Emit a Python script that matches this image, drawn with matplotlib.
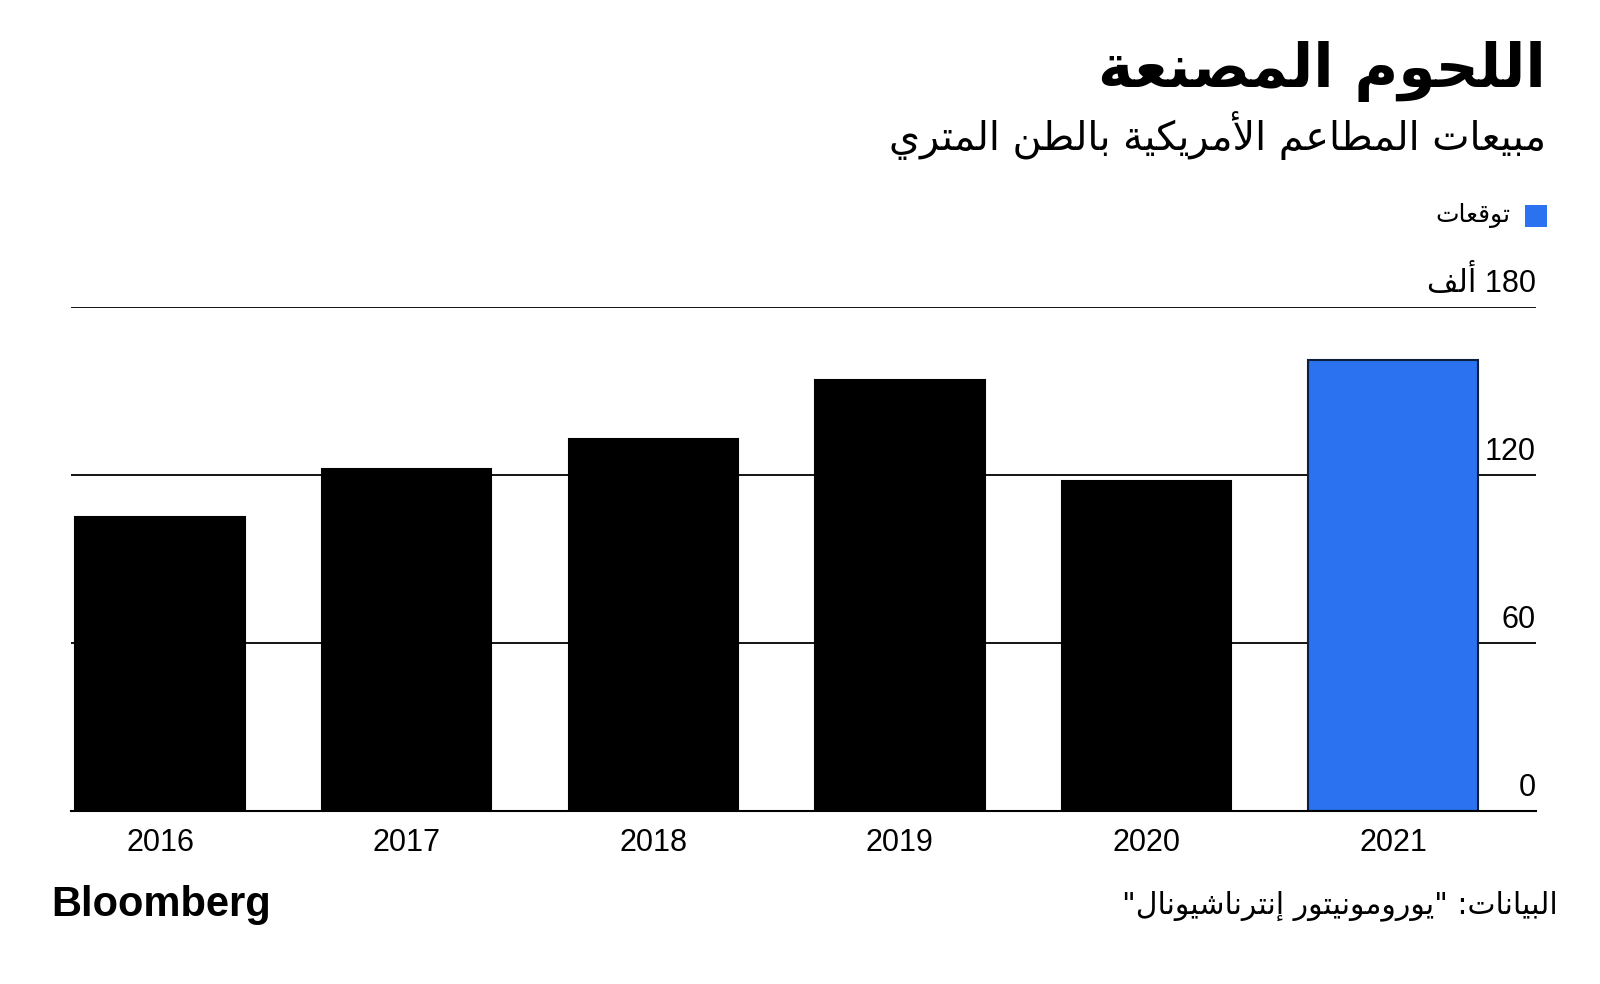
import re
import matplotlib
matplotlib.use("Agg")
import matplotlib.pyplot as plt
from matplotlib.patches import Rectangle
from matplotlib.transforms import blended_transform_factory, offset_copy

# ---------------- data ----------------
years = ["2016", "2017", "2018", "2019", "2020", "2021"]
sales = [105, 122, 133, 154, 118, 161]          # thousand metric tons
is_forecast = [False, False, False, False, False, True]
yticks = [0, 60, 120, 180]
ytick_labels = ["0", "60", "120", "180 ألف"]

title = "اللحوم المصنعة"
subtitle = "مبيعات المطاعم الأمريكية بالطن المتري"
legend_label = "توقعات"
source = 'البيانات: "يورومونيتور إنترناشيونال"'

# ---------------- minimal Arabic shaping ----------------
DUAL = {0x0626: 0xFE89, 0x0628: 0xFE8F, 0x062A: 0xFE95, 0x062B: 0xFE99, 0x062C: 0xFE9D,
        0x062D: 0xFEA1, 0x062E: 0xFEA5, 0x0633: 0xFEB1, 0x0634: 0xFEB5, 0x0635: 0xFEB9,
        0x0636: 0xFEBD, 0x0637: 0xFEC1, 0x0638: 0xFEC5, 0x0639: 0xFEC9, 0x063A: 0xFECD,
        0x0641: 0xFED1, 0x0642: 0xFED5, 0x0643: 0xFED9, 0x0644: 0xFEDD, 0x0645: 0xFEE1,
        0x0646: 0xFEE5, 0x0647: 0xFEE9, 0x064A: 0xFEF1}
RIGHT = {0x0622: 0xFE81, 0x0623: 0xFE83, 0x0624: 0xFE85, 0x0625: 0xFE87, 0x0627: 0xFE8D,
         0x0629: 0xFE93, 0x062F: 0xFEA9, 0x0630: 0xFEAB, 0x0631: 0xFEAD, 0x0632: 0xFEAF,
         0x0648: 0xFEED, 0x0649: 0xFEEF}
LAMALEF = {"\u0622": (0xFEF5, 0xFEF6), "\u0623": (0xFEF7, 0xFEF8),
           "\u0625": (0xFEF9, 0xFEFA), "\u0627": (0xFEFB, 0xFEFC)}


def _jtype(tok):
    c = tok[0]
    if c == "LA":
        return "R"
    o = ord(c)
    if o in DUAL:
        return "D"
    if o in RIGHT:
        return "R"
    if o == 0x0621:
        return "U"
    return None


def shape(s):
    toks = []
    i = 0
    while i < len(s):
        c = s[i]
        if c == "\u0644" and i + 1 < len(s) and s[i + 1] in LAMALEF:
            toks.append(("LA", s[i + 1]))
            i += 2
        else:
            toks.append((c, None))
            i += 1
    res = []
    for k, tok in enumerate(toks):
        t = _jtype(tok)
        prev = _jtype(toks[k - 1]) if k > 0 else None
        nxt = _jtype(toks[k + 1]) if k + 1 < len(toks) else None
        lp = t in ("D", "R") and prev == "D"
        ln = t == "D" and nxt in ("D", "R")
        if tok[0] == "LA":
            iso, fin = LAMALEF[tok[1]]
            res.append(chr(fin if lp else iso))
        elif t == "D":
            idx = 3 if (lp and ln) else 1 if lp else 2 if ln else 0
            res.append(chr(DUAL[ord(tok[0])] + idx))
        elif t == "R":
            res.append(chr(RIGHT[ord(tok[0])] + (1 if lp else 0)))
        elif t == "U":
            res.append(chr(0xFE80))
        else:
            res.append(tok[0])
    vis = "".join(res)[::-1]
    vis = re.sub(r"[0-9A-Za-z][0-9A-Za-z.,]*", lambda m: m.group(0)[::-1], vis)
    return vis


FAM = ["Liberation Sans", "DejaVu Sans"]
FAM_AR = ["DejaVu Sans"]

# ---------------- figure ----------------
W, H = 1600, 984
fig = plt.figure(figsize=(16, 9.84), dpi=100)
fig.patch.set_facecolor("white")

def fx(px):
    return px / W

def fy(py):
    return 1 - py / H

ax = fig.add_axes([fx(71.4), fy(811), fx(1536) - fx(71.4), (811 - 307) / H])
x = list(range(len(years)))
colors = ["#2b72f0" if f else "#000000" for f in is_forecast]
edges = ["#0e1f3d" if f else "#000000" for f in is_forecast]
ax.bar(x, sales, width=0.687, color=colors, edgecolor=edges, linewidth=1.5, zorder=3)

ax.set_xlim(-0.36, 5.58)
ax.set_ylim(0, 180)
ax.set_yticks(yticks)
ax.tick_params(axis="y", left=False, labelleft=False)
ax.yaxis.grid(True, color="#000000", linewidth=1.3, zorder=1)
ax.set_axisbelow(True)
for sp in ["left", "right", "top"]:
    ax.spines[sp].set_visible(False)
ax.spines["bottom"].set_color("#000000")
ax.spines["bottom"].set_linewidth(1.5)
ax.spines["bottom"].set_zorder(4)
ax.set_xticks(x)
ax.set_xticklabels(years, fontsize=22, family=FAM)
ax.tick_params(axis="x", length=0, pad=12)
ax.set_facecolor("white")

trans = offset_copy(blended_transform_factory(ax.transAxes, ax.transData), fig=fig, x=0, y=8, units="dots")
for v, lab in zip(yticks, ytick_labels):
    ax.text(1.0, v, shape(lab), transform=trans, ha="right", va="bottom",
            fontsize=22, family=FAM, color="#000000")

# ---------------- texts ----------------
fig.text(fx(1546), fy(72), shape(title), ha="right", va="center",
         fontsize=43, fontweight="bold", family=FAM_AR, color="#000000")
fig.text(fx(1546), fy(136), shape(subtitle), ha="right", va="center",
         fontsize=28.5, family=FAM_AR, color="#000000")

# legend
fig.add_artist(Rectangle((fx(1525), fy(227)), fx(22), 22 / H, transform=fig.transFigure,
                         facecolor="#2b72f0", edgecolor="none"))
fig.text(fx(1510), fy(216), shape(legend_label), ha="right", va="center",
         fontsize=18, family=FAM_AR, color="#000000")

# footer
fig.text(fx(51), fy(905), "Bloomberg", ha="left", va="center",
         fontsize=30, fontweight="bold", family=FAM, color="#000000")
fig.text(fx(1558), fy(906), shape(source), ha="right", va="center",
         fontsize=21.5, family=FAM_AR, color="#000000")

fig.savefig("out.png", dpi=100, facecolor="white")
